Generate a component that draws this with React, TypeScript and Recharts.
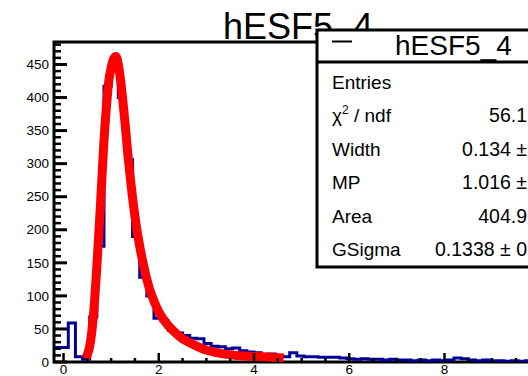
import React from "react";
import { ComposedChart, Line, XAxis, YAxis, ReferenceArea } from "recharts";

// histogram binning (ROOT TH1: fixed width bins)
const BIN_LOW = -0.2;
const BIN_WIDTH = 0.15;
const COUNTS = [
  22, 22, 59, 8, 4, 68, 175, 417, 445, 400, 306, 190, 128, 100, 66, 62, 48, 44, 40, 36,
  35, 28, 24, 23, 20, 21, 17, 15, 14, 11, 12, 10, 8, 14, 9, 8, 8, 7, 7, 7,
  6, 5, 4, 5, 4, 4, 3, 4, 3, 3, 2, 3, 2, 3, 2, 3, 6, 5, 3, 2,
  3, 2, 2, 1, 2, 1, 2, 1, 1, 2,
];

// landau (x) gauss fit
const FIT_X = [
  0.46, 0.5, 0.55, 0.6, 0.65, 0.7, 0.75, 0.8, 0.85, 0.9, 0.95, 1.0, 1.05, 1.1, 1.15, 1.2,
  1.25, 1.3, 1.35, 1.4, 1.45, 1.5, 1.55, 1.6, 1.7, 1.8, 1.9, 2.0, 2.2, 2.4, 2.5, 2.6, 2.8,
  3.0, 3.3, 3.7, 4.0, 4.3, 4.62,
];
const FIT_Y = [
  5, 11, 24, 50, 90, 145, 205, 270, 335, 385, 425, 445, 458, 462, 450, 425,
  392, 355, 315, 280, 248, 220, 196, 175, 140, 112, 92, 76, 55, 41, 35, 31, 24,
  18, 13, 9.5, 8.5, 7.5, 6,
];

// "10" sits past the right edge of the picture, so it is not labelled
const X_LABELS = [0, 2, 4, 6, 8];
const Y_LABELS = [0, 50, 100, 150, 200, 250, 300, 350, 400, 450];

const TITLE = "hESF5_4";
const STAT_NAMES = ["Entries", "χ2 / ndf", "Width", "MP", "Area", "GSigma"];
const STAT_VALUES = ["", "56.1", "0.134 ±", "1.016 ±", "404.9", "0.1338 ± 0"];

const FONT = "'Liberation Sans', Arial, Helvetica, sans-serif";
const PLOT_LEFT = 54;
const PLOT_BOTTOM = 362;
const X_DOMAIN: [number, number] = [-0.2, 10.3];
const Y_DOMAIN: [number, number] = [0, 484];

const xTicks = Array.from({ length: 21 }, (_, i) => i * 0.5);
const yTicks = Array.from({ length: 49 }, (_, i) => i * 10);

const histData = [
  ...COUNTS.map((c, i) => ({ x: +(BIN_LOW + i * BIN_WIDTH).toFixed(3), y: c })),
  { x: +(BIN_LOW + COUNTS.length * BIN_WIDTH).toFixed(3), y: COUNTS[COUNTS.length - 1] },
];
const fitData = FIT_X.map((x, i) => ({ x, y: FIT_Y[i] }));

function YTick(props: any) {
  const { y, payload } = props;
  const v = payload.value;
  const major = Y_LABELS.includes(v);
  return (
    <g>
      <line x1={PLOT_LEFT} x2={PLOT_LEFT + (major ? 13 : 7)} y1={y} y2={y} stroke="#000" strokeWidth={major ? 3 : 2.5} />
      {major && (
        <text x={49} y={y + 4.7} textAnchor="end" fontSize={13.5} fontFamily={FONT} fill="#000">
          {v}
        </text>
      )}
    </g>
  );
}

function XTick(props: any) {
  const { x, payload } = props;
  const v = payload.value;
  const major = v % 2 === 0;
  return (
    <g>
      <line x1={x} x2={x} y1={PLOT_BOTTOM} y2={PLOT_BOTTOM - (major ? 9 : 4)} stroke="#000" strokeWidth={2.5} />
      {X_LABELS.includes(v) && (
        <text x={x} y={374} textAnchor="middle" fontSize={13.5} fontFamily={FONT} fill="#000">
          {v}
        </text>
      )}
    </g>
  );
}

export default function App() {
  return (
    <div
      style={{
        position: "fixed",
        left: 0,
        top: 0,
        width: 528,
        height: 376,
        overflow: "hidden",
        background: "#fff",
        fontFamily: FONT,
      }}
    >
      <ComposedChart width={554} height={376} margin={{ top: 42, right: 0, bottom: 0, left: 0 }}>
        <XAxis
          dataKey="x"
          type="number"
          domain={X_DOMAIN}
          allowDataOverflow
          ticks={xTicks}
          interval={0}
          height={14}
          axisLine={false}
          tickLine={false}
          tick={<XTick />}
        />
        <YAxis
          type="number"
          domain={Y_DOMAIN}
          allowDataOverflow
          ticks={yTicks}
          interval={0}
          width={54}
          axisLine={false}
          tickLine={false}
          tick={<YTick />}
        />
        <Line
          data={histData}
          dataKey="y"
          type="stepAfter"
          stroke="#000099"
          strokeWidth={3}
          dot={false}
          activeDot={false}
          isAnimationActive={false}
        />
        <Line
          data={fitData}
          dataKey="y"
          type="monotone"
          stroke="#ff0000"
          strokeWidth={9}
          dot={false}
          activeDot={false}
          isAnimationActive={false}
        />
        <ReferenceArea
          x1={X_DOMAIN[0]}
          x2={X_DOMAIN[1]}
          y1={Y_DOMAIN[0]}
          y2={Y_DOMAIN[1]}
          fill="none"
          fillOpacity={0}
          stroke="#000"
          strokeWidth={3}
          ifOverflow="visible"
        />
      </ComposedChart>

      <svg width={528} height={376} style={{ position: "absolute", left: 0, top: 0 }}>
        <text x={223} y={39} fontSize={36} fontFamily={FONT} fill="#000">
          {TITLE}
        </text>
        <rect x={317} y={30} width={300} height={237} fill="#fff" stroke="#000" strokeWidth={3} />
        <line x1={317} x2={617} y1={62} y2={62} stroke="#000" strokeWidth={3} />
        <line x1={332} x2={352} y1={41.5} y2={41.5} stroke="#000" strokeWidth={2} />
        <text x={395} y={55} fontSize={28} fontFamily={FONT} fill="#000">
          {TITLE}
        </text>
        {STAT_NAMES.map((name, i) => {
          const y = 89 + i * 33.4;
          return (
            <g key={name}>
              <text x={332} y={y} fontSize={19} fontFamily={FONT} fill="#000">
                {name.startsWith("χ2") ? (
                  <>
                    χ<tspan fontSize={12} dy={-8}>2</tspan>
                    <tspan dy={8}> / ndf</tspan>
                  </>
                ) : (
                  name
                )}
              </text>
              {STAT_VALUES[i] && (
                <text x={527} y={y} textAnchor="end" fontSize={19.5} fontFamily={FONT} fill="#000">
                  {STAT_VALUES[i]}
                </text>
              )}
            </g>
          );
        })}
      </svg>
    </div>
  );
}
